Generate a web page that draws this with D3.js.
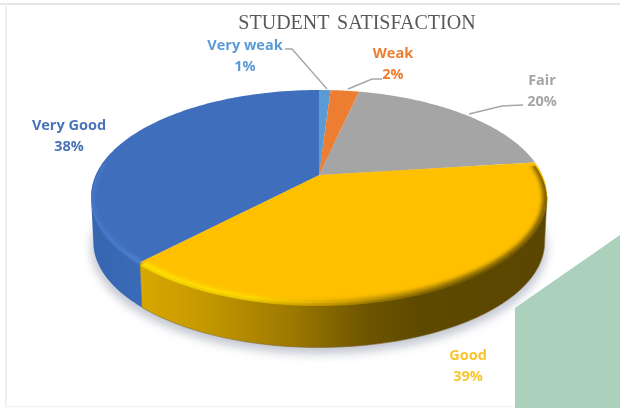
<!DOCTYPE html>
<html>
<head>
<meta charset="utf-8">
<script src="https://cdnjs.cloudflare.com/ajax/libs/d3/7.8.5/d3.min.js"></script>
<style>
  html, body { margin: 0; padding: 0; background: #fff; }
  svg { display: block; filter: blur(0.45px); }
</style>
</head>
<body>
<div id="chart"></div>
<script>
var categories = ['Very weak', 'Weak', 'Fair', 'Good', 'Very Good'];
// slice sizes, the labels show them rounded
var shares = [1, 2.45, 19.55, 39, 38];
var colors = ['#5b9bd5', '#ed7d31', '#a5a5a5', '#ffc000', '#3f6ebd'];
var labelColors = ['#5b9bd5', '#ed7d31', '#a5a5a5', '#f7c531', '#4a74b8'];

var width = 620, height = 408;
var depth = 46;
var tilt = 0.202;   // perspective: near edge of the disc looks bigger

// label centres and leader lines, placed by eye
var labelPos = [[245, 45], [393, 53], [542, 80], [468, 355], [69, 125]];
var leaders = [
  [[285, 49], [292, 49], [327, 89]],
  [[382, 79], [372, 79], [348, 89]],
  [[523, 105], [502, 106], [469, 114]],
  null,
  null
];

var svg = d3.select('#chart').append('svg')
  .attr('width', width)
  .attr('height', height);

var x = d3.scaleLinear().domain([-1, 1]).range([319 - 223.3, 319 + 223.3]);
var y = d3.scaleLinear().domain([-1, 1]).range([175 - 102.2, 175 + 102.2]);

function project(a, r, dy) {
  var u = Math.sin(a) * r, v = -Math.cos(a) * r, w = 1 - tilt * v;
  return [x(u / w), y(v / w) + (dy || 0)];
}

function arcPoints(a0, a1, r, dy) {
  return d3.range(0, 101).map(function(i) {
    return project(a0 + (a1 - a0) * i / 100, r, dy);
  });
}

var line = d3.line();
var pie = d3.pie().sort(null).value(function(d) { return d; });
var slices = pie(shares);

// where the disc is widest on screen, the wall is only seen between these
var wallFrom = Math.PI - Math.acos(tilt);
var wallTo = Math.PI + Math.acos(tilt);

var defs = svg.append('defs');

function hGradient(id, stops) {
  var g = defs.append('linearGradient')
    .attr('id', id)
    .attr('gradientUnits', 'userSpaceOnUse')
    .attr('x1', 91).attr('x2', 547).attr('y1', 0).attr('y2', 0);
  stops.forEach(function(s) {
    g.append('stop').attr('offset', s[0]).attr('stop-color', s[1]);
  });
}

hGradient('side-3', [[0.1, '#d9a900'], [0.25, '#c59800'], [0.45, '#9a7700'], [0.6, '#6e5500'], [0.72, '#5e4900'], [1, '#5a4600']]);
hGradient('side-4', [[0, '#3766b0'], [0.12, '#3a6bb8']]);
hGradient('rim-3', [[0.1, '#ffe600'], [0.35, '#ffdc00'], [0.5, '#dcaa00'], [0.65, '#a88300'], [0.85, '#7a5f00'], [1, '#6d5500']]);
hGradient('rim-4', [[0, '#4677c6'], [0.12, '#4f86da']]);

defs.append('filter').attr('id', 'soft').attr('x', '-20%').attr('y', '-20%').attr('width', '140%').attr('height', '140%')
  .append('feGaussianBlur').attr('stdDeviation', 5);
defs.append('filter').attr('id', 'rimBlur').attr('x', '-10%').attr('y', '-10%').attr('width', '120%').attr('height', '120%')
  .append('feGaussianBlur').attr('stdDeviation', 2);

// edges of the pasted picture
svg.append('rect').attr('x', 0).attr('y', 3).attr('width', width).attr('height', 2).attr('fill', '#e6e6e6');
svg.append('rect').attr('x', 5).attr('y', 3).attr('width', 2).attr('height', 403).attr('fill', '#efefef');
svg.append('rect').attr('x', 5).attr('y', 406).attr('width', width).attr('height', 1).attr('fill', '#f2f2f2');

// soft shadow under the disc
svg.append('path')
  .attr('d', line(arcPoints(0, 2 * Math.PI, 1, depth + 5)) + 'Z')
  .attr('fill', '#c3c7d0')
  .attr('filter', 'url(#soft)');

// green block in the corner
var greenCorner = [[515, 308], [620, 235], [620, 408], [515, 408]];
svg.append('path')
  .attr('d', line(greenCorner) + 'Z')
  .attr('fill', '#abd0bb');

// side walls, only the two front slices show
slices.forEach(function(d, i) {
  if (i < 3) return;
  var from = Math.max(d.startAngle, wallFrom), to = Math.min(d.endAngle, wallTo);
  var top = arcPoints(from, to, 1, 0);
  var bottom = arcPoints(from, to, 0.99, depth).reverse();
  svg.append('path')
    .attr('d', line(top.concat(bottom)) + 'Z')
    .attr('fill', 'url(#side-' + i + ')')
    .attr('stroke', i === 3 ? '#7d6a3a' : 'none')
    .attr('stroke-width', 0.6);
});

// top face
svg.selectAll('path.face')
  .data(slices)
  .enter().append('path')
    .attr('class', 'face')
    .attr('d', function(d) {
      return line([project(0, 0)].concat(arcPoints(d.startAngle, d.endAngle, 1, 0))) + 'Z';
    })
    .attr('fill', function(d, i) { return colors[i]; });

// bevel along the front rim, the blue one stops at the left of the disc
slices.forEach(function(d, i) {
  if (i < 3) return;
  var end = i === 4 ? d.startAngle + 0.95 : d.endAngle;
  var clipId = 'rim-clip-' + i;
  defs.append('clipPath').attr('id', clipId)
    .append('path')
    .attr('d', line([project(0, 0)].concat(arcPoints(d.startAngle, d.endAngle, 1, 3))) + 'Z');
  svg.append('g').attr('clip-path', 'url(#' + clipId + ')')
    .append('path')
    .attr('d', line(arcPoints(d.startAngle, end, 0.995, 1)))
    .attr('fill', 'none')
    .attr('stroke', 'url(#rim-' + i + ')')
    .attr('stroke-width', i === 3 ? 6 : 4)
    .attr('filter', 'url(#rimBlur)');
});

// leader lines
svg.selectAll('path.leader')
  .data(leaders.filter(function(d) { return d; }))
  .enter().append('path')
    .attr('class', 'leader')
    .attr('d', line)
    .attr('fill', 'none')
    .attr('stroke', '#a6a6a6')
    .attr('stroke-width', 1.4);

// labels
var labels = svg.selectAll('text.label')
  .data(categories)
  .enter().append('text')
    .attr('class', 'label')
    .attr('text-anchor', 'middle')
    .attr('font-family', '"Open Sans", sans-serif')
    .attr('font-weight', 700)
    .attr('font-size', 14.5)
    .attr('fill', function(d, i) { return labelColors[i]; });

labels.append('tspan')
  .attr('x', function(d, i) { return labelPos[i][0]; })
  .attr('y', function(d, i) { return labelPos[i][1] + 5; })
  .text(function(d) { return d; });

labels.append('tspan')
  .attr('x', function(d, i) { return labelPos[i][0]; })
  .attr('y', function(d, i) { return labelPos[i][1] + 26; })
  .text(function(d, i) { return Math.round(shares[i]) + '%'; });

svg.append('text')
  .attr('x', 357)
  .attr('y', 29)
  .attr('text-anchor', 'middle')
  .attr('font-family', '"Liberation Serif", serif')
  .attr('font-size', 20)
  .attr('word-spacing', 3)
  .attr('fill', '#595959')
  .text('STUDENT SATISFACTION');
</script>
</body>
</html>
